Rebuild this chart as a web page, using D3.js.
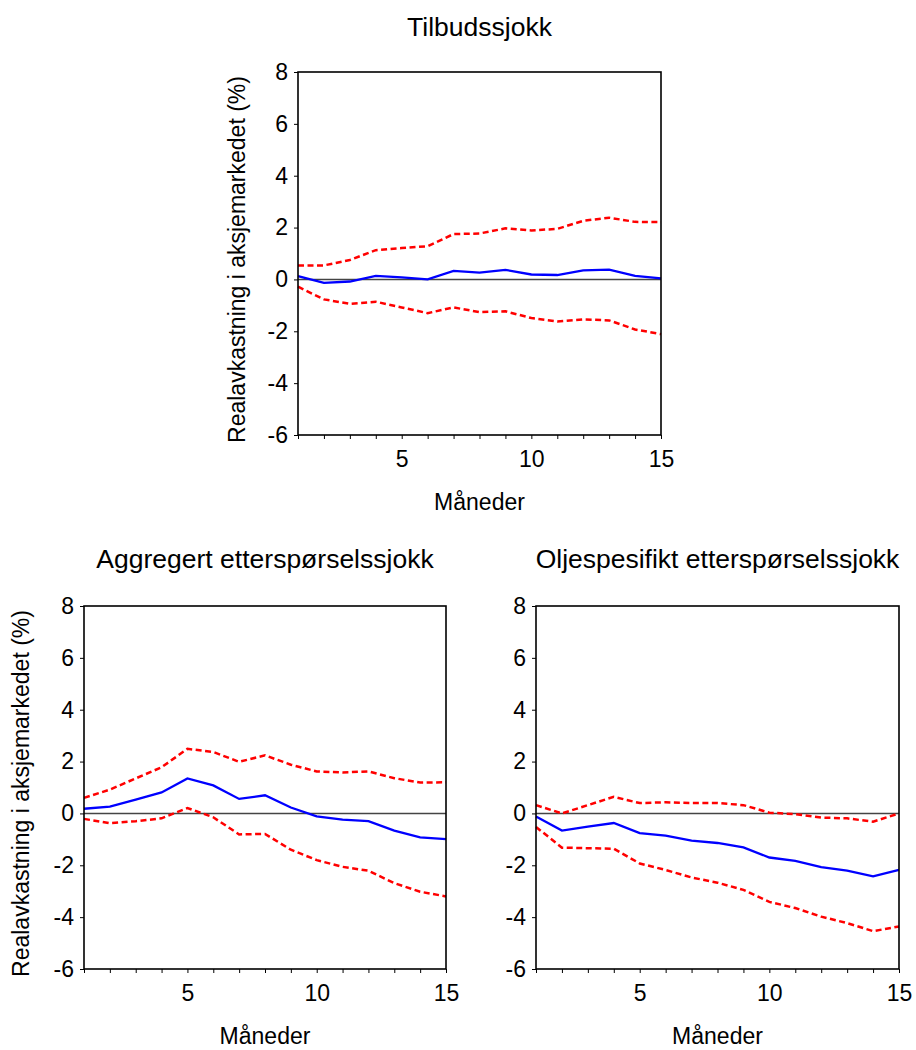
<!DOCTYPE html>
<html>
<head>
<meta charset="utf-8">
<script src="https://cdn.jsdelivr.net/npm/d3@7"></script>
<style>
  html, body { margin: 0; padding: 0; background: #fff; }
  svg { display: block; font-family: Arial, "Liberation Sans", sans-serif; }
</style>
</head>
<body>
<svg id="chart" width="916" height="1050"></svg>
<script>
// Impulse responses of real stock returns (%) over 15 months, with error bands
const months = [1, 2, 3, 4, 5, 6, 7, 8, 9, 10, 11, 12, 13, 14, 15];
const xTickLabels = [5, 10, 15];
const yTicks = [-6, -4, -2, 0, 2, 4, 6, 8];

const panelTitles = ["Tilbudssjokk", "Aggregert etterspørselssjokk", "Oljespesifikt etterspørselssjokk"];
const yAxisTitle = "Realavkastning i aksjemarkedet (%)";
const xAxisTitle = "Måneder";

// Tilbudssjokk
const supplyResponse = [0.13, -0.13, -0.08, 0.14, 0.08, 0.0, 0.33, 0.26, 0.37, 0.19, 0.17, 0.35, 0.38, 0.14, 0.04];
const supplyUpper = [0.54, 0.54, 0.75, 1.13, 1.21, 1.28, 1.75, 1.77, 1.97, 1.89, 1.95, 2.26, 2.38, 2.22, 2.21];
const supplyLower = [-0.28, -0.77, -0.94, -0.86, -1.08, -1.30, -1.08, -1.26, -1.23, -1.49, -1.62, -1.54, -1.58, -1.93, -2.11];

// Aggregert etterspørselssjokk
const aggResponse = [0.18, 0.26, 0.53, 0.81, 1.35, 1.08, 0.56, 0.70, 0.23, -0.11, -0.24, -0.30, -0.66, -0.92, -0.99];
const aggUpper = [0.60, 0.92, 1.35, 1.78, 2.49, 2.37, 1.99, 2.24, 1.88, 1.62, 1.58, 1.62, 1.36, 1.19, 1.20];
const aggLower = [-0.21, -0.38, -0.30, -0.19, 0.21, -0.15, -0.81, -0.79, -1.40, -1.80, -2.06, -2.21, -2.69, -3.02, -3.20];

// Oljespesifikt etterspørselssjokk
const oilResponse = [-0.12, -0.66, -0.51, -0.37, -0.76, -0.86, -1.05, -1.14, -1.31, -1.70, -1.83, -2.07, -2.21, -2.43, -2.18];
const oilUpper = [0.32, 0.0, 0.32, 0.64, 0.40, 0.43, 0.40, 0.40, 0.32, 0.03, -0.03, -0.16, -0.19, -0.32, 0.0];
const oilLower = [-0.52, -1.32, -1.34, -1.36, -1.93, -2.18, -2.47, -2.67, -2.95, -3.41, -3.65, -3.98, -4.23, -4.54, -4.36];

const panels = [
  { title: panelTitles[0], resp: supplyResponse, up: supplyUpper, lo: supplyLower,
    left: 298, right: 661, top: 72, bottom: 435, titleY: 36, yLabelX: 245 },
  { title: panelTitles[1], resp: aggResponse, up: aggUpper, lo: aggLower,
    left: 84, right: 446, top: 606, bottom: 969, titleY: 568, yLabelX: 29 },
  { title: panelTitles[2], resp: oilResponse, up: oilUpper, lo: oilLower,
    left: 536, right: 899, top: 606, bottom: 969, titleY: 568, yLabelX: null }
];

const svg = d3.select("#chart");
const fontStack = "Arial, 'Liberation Sans', sans-serif";

panels.forEach(p => {
  const x = d3.scaleLinear().domain([1, 15]).range([p.left, p.right]);
  const y = d3.scaleLinear().domain([-6, 8]).range([p.bottom, p.top]);
  const g = svg.append("g");

  // zero reference line
  g.append("line")
    .attr("x1", x(1)).attr("x2", x(15))
    .attr("y1", y(0)).attr("y2", y(0))
    .attr("stroke", "#444").attr("stroke-width", 1.4);

  const line = d3.line().x((d, i) => x(months[i])).y(d => y(d));

  g.append("path").datum(p.up)
    .attr("d", line).attr("fill", "none")
    .attr("stroke", "#ff0000").attr("stroke-width", 2.5)
    .attr("stroke-dasharray", "6,3.5");
  g.append("path").datum(p.lo)
    .attr("d", line).attr("fill", "none")
    .attr("stroke", "#ff0000").attr("stroke-width", 2.5)
    .attr("stroke-dasharray", "6,3.5");
  g.append("path").datum(p.resp)
    .attr("d", line).attr("fill", "none")
    .attr("stroke", "#0000ff").attr("stroke-width", 2.3);

  // frame
  g.append("rect")
    .attr("x", p.left).attr("y", p.top)
    .attr("width", p.right - p.left).attr("height", p.bottom - p.top)
    .attr("fill", "none").attr("stroke", "#000").attr("stroke-width", 1.6);

  // y axis
  const yAxis = d3.axisLeft(y).tickValues(yTicks).tickSize(4).tickPadding(6).tickFormat(d => String(d));
  const ya = g.append("g").attr("transform", `translate(${p.left},0)`).call(yAxis);
  ya.select(".domain").remove();
  ya.selectAll("line").attr("stroke", "#000");
  ya.selectAll("text").attr("font-size", 23).attr("fill", "#000").attr("font-family", fontStack);

  // x axis
  const xAxis = d3.axisBottom(x).tickValues(months).tickSize(4).tickPadding(12)
    .tickFormat(d => xTickLabels.includes(d) ? String(d) : "");
  const xa = g.append("g").attr("transform", `translate(0,${p.bottom})`).call(xAxis);
  xa.select(".domain").remove();
  xa.selectAll("line").attr("stroke", "#000");
  xa.selectAll("text").attr("font-size", 23).attr("fill", "#000").attr("font-family", fontStack);

  // panel title
  g.append("text")
    .attr("x", (p.left + p.right) / 2).attr("y", p.titleY)
    .attr("text-anchor", "middle").attr("font-size", 26.5).attr("fill", "#000")
    .text(p.title);

  // x axis title
  g.append("text")
    .attr("x", (p.left + p.right) / 2).attr("y", p.bottom + 75)
    .attr("text-anchor", "middle").attr("font-size", 23).attr("fill", "#000")
    .text(xAxisTitle);

  // y axis title
  if (p.yLabelX !== null) {
    const cy = (p.top + p.bottom) / 2 + 6;
    g.append("text")
      .attr("transform", `translate(${p.yLabelX},${cy}) rotate(-90)`)
      .attr("text-anchor", "middle").attr("font-size", 23).attr("fill", "#000")
      .text(yAxisTitle);
  }
});
</script>
</body>
</html>
